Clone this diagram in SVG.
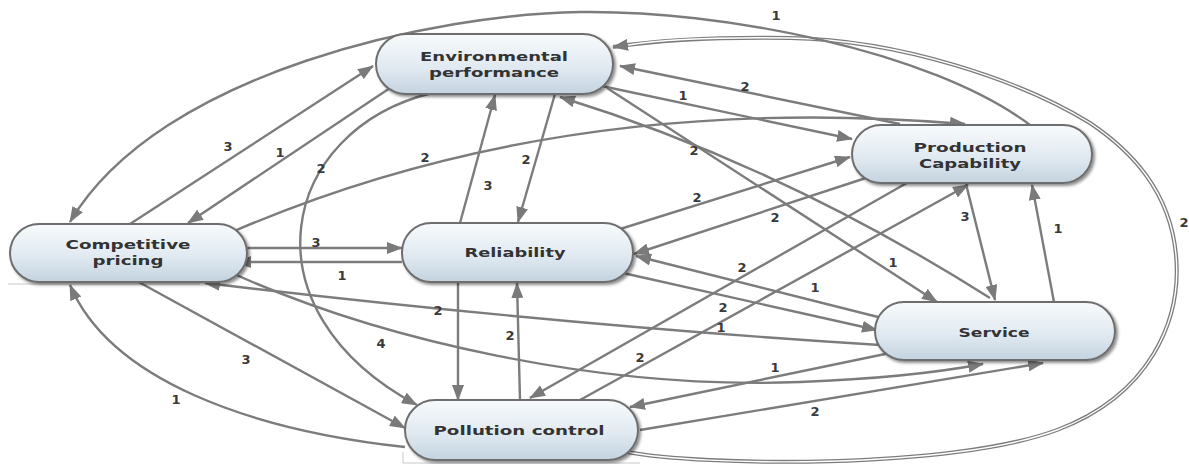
<svg xmlns="http://www.w3.org/2000/svg" width="1189" height="464" viewBox="0 0 1189 464">
<defs>
<linearGradient id="ng" x1="0" y1="0" x2="0" y2="1">
<stop offset="0" stop-color="#f7fafc"/>
<stop offset="0.55" stop-color="#e1eaf1"/>
<stop offset="1" stop-color="#c3d3e0"/>
</linearGradient>
<filter id="sh" x="-10%" y="-20%" width="125%" height="150%">
<feDropShadow dx="2" dy="2" stdDeviation="1.5" flood-color="#000" flood-opacity="0.45"/>
</filter>
<marker id="ah" viewBox="0 0 16 12" refX="15" refY="6" markerWidth="16" markerHeight="12" markerUnits="userSpaceOnUse" orient="auto">
<path d="M0,0 L16,6 L0,12 z" fill="#7a7a7a"/>
</marker>
</defs>
<style>
.e{fill:none;stroke:#7c7c7c;stroke-width:2.4;marker-end:url(#ah)}
.dbl{fill:none;stroke:#7c7c7c;stroke-width:4}
.dblw{fill:none;stroke:#fff;stroke-width:1.4}
.l{font-family:"DejaVu Sans",sans-serif;font-weight:bold;font-size:13px;fill:#3a3a3a;text-anchor:middle}
.box{fill:url(#ng);stroke:#6e6e6e;stroke-width:2;filter:url(#sh)}
.t{font-family:"DejaVu Sans",sans-serif;font-weight:bold;font-size:13px;fill:#333;text-anchor:middle}
.art{stroke:#c8c8c8;stroke-width:1;fill:none}
</style>
<rect width="1189" height="464" fill="#fff"/>
<path class="art" d="M8,284 H200 M403,452 V463 H640"/>
<g id="connectors">
<path class="dbl" d="M627,452 C700,466 950,470 1057,430 C1150,395 1182,320 1176,255 C1170,190 1130,150 1090,123 C1020,80 900,40 790,38 C720,37 660,40 613,47" marker-end="url(#ah)"/>
<path class="dblw" d="M627,452 C700,466 950,470 1057,430 C1150,395 1182,320 1176,255 C1170,190 1130,150 1090,123 C1020,80 900,40 790,38 C720,37 660,40 628,45"/>
<path class="e" d="M1030,125 C930,50 720,10 580,12 S160,70 70,222"/>
<path class="e" d="M130,224 L373,66"/>
<path class="e" d="M393,86 L188,223"/>
<path class="e" d="M232,232 Q560,90 965,124"/>
<path class="e" d="M247,248 L402,248"/>
<path class="e" d="M402,262 L236,262"/>
<path class="e" d="M135,280 L405,428"/>
<path class="e" d="M405,447 C250,430 110,380 70,285"/>
<path class="e" d="M232,273 C380,340 600,390 800,382 C880,379 940,372 983,364"/>
<path class="e" d="M880,345 Q560,325 205,283"/>
<path class="e" d="M555,94 L518,222"/>
<path class="e" d="M460,223 L495,95"/>
<path class="e" d="M597,85 L852,139"/>
<path class="e" d="M900,124 L620,66"/>
<path class="e" d="M432,93 C280,130 240,310 417,405"/>
<path class="e" d="M617,230 L850,157"/>
<path class="e" d="M872,176 L634,254"/>
<path class="e" d="M882,318 L636,256"/>
<path class="e" d="M623,273 L877,330"/>
<path class="e" d="M912,180 L530,398"/>
<path class="e" d="M580,400 L968,185"/>
<path class="e" d="M458,282 L458,400"/>
<path class="e" d="M520,400 L517,283"/>
<path class="e" d="M890,353 L630,407"/>
<path class="e" d="M640,430 L1043,363"/>
<path class="e" d="M966,184 L995,300"/>
<path class="e" d="M1054,302 L1032,185"/>
<path class="e" d="M990,298 Q780,165 560,97"/>
<path class="e" d="M607,88 L937,302"/>
</g>
<g id="labels">
<text class="l" x="776" y="20">1</text>
<text class="l" x="745" y="91">2</text>
<text class="l" x="683" y="100">1</text>
<text class="l" x="228" y="151">3</text>
<text class="l" x="280" y="157">1</text>
<text class="l" x="321" y="173">2</text>
<text class="l" x="425" y="162">2</text>
<text class="l" x="526" y="164">2</text>
<text class="l" x="488" y="190">3</text>
<text class="l" x="694" y="155">2</text>
<text class="l" x="697" y="202">2</text>
<text class="l" x="775" y="222">2</text>
<text class="l" x="965" y="221">3</text>
<text class="l" x="1058" y="233">1</text>
<text class="l" x="1184" y="227">2</text>
<text class="l" x="316" y="247">3</text>
<text class="l" x="342" y="280">1</text>
<text class="l" x="742" y="272">2</text>
<text class="l" x="815" y="292">1</text>
<text class="l" x="893" y="267">1</text>
<text class="l" x="438" y="315">2</text>
<text class="l" x="723" y="312">2</text>
<text class="l" x="721" y="332">1</text>
<text class="l" x="510" y="340">2</text>
<text class="l" x="381" y="348">4</text>
<text class="l" x="246" y="364">3</text>
<text class="l" x="176" y="404">1</text>
<text class="l" x="640" y="362">2</text>
<text class="l" x="775" y="372">1</text>
<text class="l" x="815" y="416">2</text>
</g>
<g id="node-environmental">
<rect class="box" x="376" y="34" width="237" height="60" rx="30"/>
<text class="t" x="494" y="61" textLength="148" lengthAdjust="spacingAndGlyphs">Environmental</text>
<text class="t" x="494" y="77" textLength="130" lengthAdjust="spacingAndGlyphs">performance</text>
</g>
<g id="node-production">
<rect class="box" x="852" y="125" width="240" height="58" rx="29"/>
<text class="t" x="970" y="152" textLength="113" lengthAdjust="spacingAndGlyphs">Production</text>
<text class="t" x="970" y="168" textLength="102" lengthAdjust="spacingAndGlyphs">Capability</text>
</g>
<g id="node-competitive">
<rect class="box" x="10" y="224" width="237" height="58" rx="29"/>
<text class="t" x="128" y="249" textLength="125" lengthAdjust="spacingAndGlyphs">Competitive</text>
<text class="t" x="128" y="265" textLength="71" lengthAdjust="spacingAndGlyphs">pricing</text>
</g>
<g id="node-reliability">
<rect class="box" x="402" y="223" width="231" height="59" rx="29"/>
<text class="t" x="515" y="257" textLength="101" lengthAdjust="spacingAndGlyphs">Reliability</text>
</g>
<g id="node-pollution">
<rect class="box" x="405" y="400" width="233" height="60" rx="30"/>
<text class="t" x="519" y="435" textLength="171" lengthAdjust="spacingAndGlyphs">Pollution control</text>
</g>
<g id="node-service">
<rect class="box" x="875" y="302" width="240" height="58" rx="29"/>
<text class="t" x="994" y="337" textLength="71" lengthAdjust="spacingAndGlyphs">Service</text>
</g>
</svg>
